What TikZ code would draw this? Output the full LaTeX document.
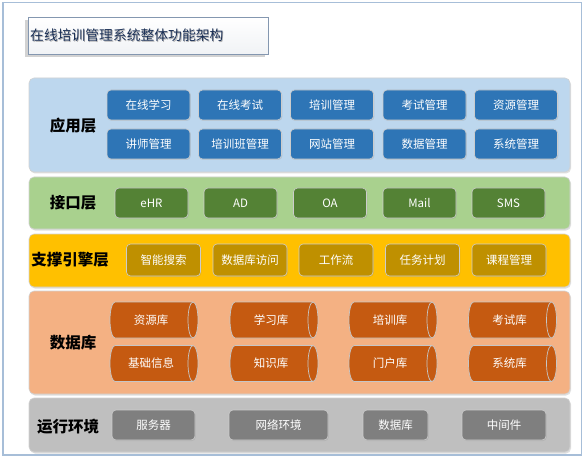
\documentclass[tikz,border=0pt]{standalone}
\usepackage{fontspec}
\setmainfont{Noto Sans CJK SC}
\usetikzlibrary{shadows}
\definecolor{framec}{HTML}{A7BED8}
\definecolor{appbg}{HTML}{BDD7EE}
\definecolor{appbox}{HTML}{2E75B6}
\definecolor{ifbg}{HTML}{A9D18E}
\definecolor{ifbox}{HTML}{548235}
\definecolor{supbg}{HTML}{FFC000}
\definecolor{supbox}{HTML}{BF9000}
\definecolor{databg}{HTML}{F4B183}
\definecolor{datacyl}{HTML}{C55A11}
\definecolor{runbg}{HTML}{BFBFBF}
\definecolor{runbox}{HTML}{7F7F7F}
\definecolor{titlec}{HTML}{1A2F55}
\definecolor{titleline}{HTML}{8497B0}
\newcommand\dbcyl[4]{%
  \path[draw=gray!45, line width=0.7pt, fill=datacyl]
    ({#2-39},{#3-18}) -- ({#2+39},{#3-18})
    arc[start angle=90, end angle=-90, x radius=5pt, y radius=18pt]
    -- ({#2-39},{#3+18})
    arc[start angle=270, end angle=90, x radius=5pt, y radius=18pt] -- cycle;
  \draw[gray!45, line width=0.7pt] ({#2+39},{#3-18})
    arc[start angle=90, end angle=270, x radius=5pt, y radius=18pt];
  \node[boxtext] (#1) at ({#2-3},#3) {#4};
}
\begin{document}
\begin{tikzpicture}[x=1pt, y=-1pt,
  boxtext/.style={text=white, font=\fontsize{11.5}{12}\selectfont, inner sep=0pt},
  band/.style={draw=gray!35, line width=0.6pt, rounded corners=5pt, inner sep=0pt,
    drop shadow={shadow xshift=1pt, shadow yshift=-1.5pt, opacity=0.25}},
  lbl/.style={font=\fontsize{15.5}{16}\selectfont\bfseries, text=black, inner sep=0pt},
  ubox/.style={rectangle, rounded corners=4pt, draw=gray!40, line width=0.6pt,
    fill=#1, text=white, font=\fontsize{11.5}{12}\selectfont, inner sep=0pt,
    drop shadow={shadow xshift=0.8pt, shadow yshift=-1pt, opacity=0.2}},
  appb/.style={ubox=appbox, minimum width=83pt, minimum height=30pt},
  ifb/.style={ubox=ifbox, minimum width=73pt, minimum height=30pt},
  supb/.style={ubox=supbox, minimum width=74pt, minimum height=32pt},
  runb/.style={ubox=runbox, minimum height=30pt}
]
\useasboundingbox (0,0) rectangle (588,462);
\fill[white] (0,0) rectangle (588,462);
\draw[framec, line width=1.6pt] (3,2.5) rectangle (581.5,455);

% title
\node[draw=titleline, line width=0.7pt, top color=white, bottom color=titleline!12,
  minimum width=240pt, minimum height=37pt, inner sep=0pt, anchor=north west,
  drop shadow={shadow xshift=-3pt, shadow yshift=-3pt, opacity=0.35}]
  (titlebox) at (28,17) {};
\node[anchor=west, text=gray!60, font=\fontsize{13.8}{14}\selectfont, inner sep=0pt]
  (titleshadow) at (30.8,36.3) {在线培训管理系统整体功能架构};
\node[anchor=west, text=titlec, font=\fontsize{13.8}{14}\selectfont, inner sep=0pt]
  (title) at (30,35.5) {在线培训管理系统整体功能架构};

% bands
\node[band, fill=appbg, minimum width=541pt, minimum height=94pt] (appband) at (299.5,125) {};
\node[band, fill=ifbg, minimum width=541pt, minimum height=52pt] (ifband) at (299.5,203) {};
\node[band, fill=supbg, minimum width=541pt, minimum height=53pt] (supband) at (299.5,260.5) {};
\node[band, fill=databg, minimum width=541pt, minimum height=103pt] (databand) at (299.5,342.5) {};
\node[band, fill=runbg, minimum width=541pt, minimum height=54pt] (runband) at (299.5,425) {};

% labels
\node[lbl] (l1) at (73,126) {应用层};
\node[lbl] (l2) at (73,203) {接口层};
\node[lbl] (l3) at (70,260) {支撑引擎层};
\node[lbl] (l4) at (73,343) {数据库};
\node[lbl] (l5) at (68,427) {运行环境};

% application layer
\node[appb] (a1) at (148.5,105) {在线学习};
\node[appb] (a2) at (240,105) {在线考试};
\node[appb] (a3) at (332,105) {培训管理};
\node[appb] (a4) at (424.5,105) {考试管理};
\node[appb] (a5) at (516,105) {资源管理};
\node[appb] (a6) at (148.5,144) {讲师管理};
\node[appb] (a7) at (240,144) {培训班管理};
\node[appb] (a8) at (332,144) {网站管理};
\node[appb] (a9) at (424.5,144) {数据管理};
\node[appb] (a10) at (516,144) {系统管理};

% interface layer
\node[ifb] (i1) at (151.5,203) {eHR};
\node[ifb] (i2) at (240.5,203) {AD};
\node[ifb] (i3) at (330,203) {OA};
\node[ifb] (i4) at (419.5,203) {Mail};
\node[ifb] (i5) at (508.5,203) {SMS};

% support layer
\node[supb] (s1) at (163.5,260) {智能搜索};
\node[supb] (s2) at (250,260) {数据库访问};
\node[supb] (s3) at (336,260) {工作流};
\node[supb] (s4) at (422.5,260) {任务计划};
\node[supb] (s5) at (509,260) {课程管理};

% data layer
\dbcyl{d1}{154}{320}{资源库}
\dbcyl{d2}{274}{320}{学习库}
\dbcyl{d3}{393}{320}{培训库}
\dbcyl{d4}{512.5}{320}{考试库}
\dbcyl{d5}{154}{363.5}{基础信息}
\dbcyl{d6}{274}{363.5}{知识库}
\dbcyl{d7}{393}{363.5}{门户库}
\dbcyl{d8}{512.5}{363.5}{系统库}

% runtime layer
\node[runb, minimum width=83pt] (r1) at (153.5,425) {服务器};
\node[runb, minimum width=99pt] (r2) at (278.5,425) {网络环境};
\node[runb, minimum width=65pt] (r3) at (395.5,425) {数据库};
\node[runb, minimum width=84pt] (r4) at (504,425) {中间件};
\end{tikzpicture}
\end{document}
